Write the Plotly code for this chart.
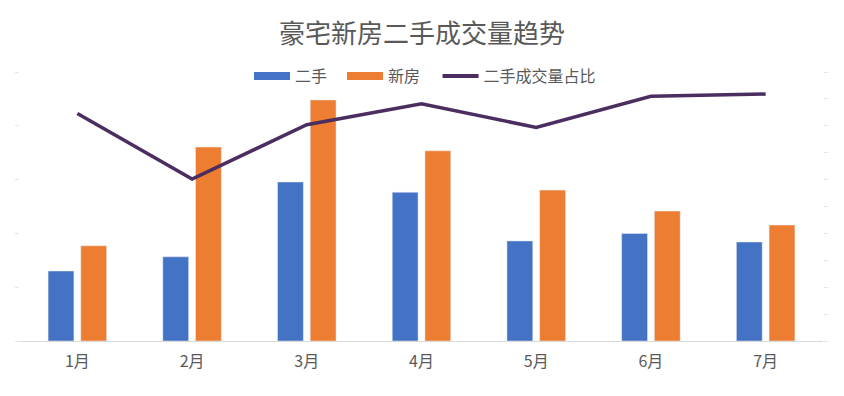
import plotly.graph_objects as go

months = ["1月", "2月", "3月", "4月", "5月", "6月", "7月"]
second_hand = [260, 313, 591, 553, 372, 400, 368]
new_house = [354, 721, 896, 707, 561, 483, 431]
second_share = [42.3, 30.1, 40.2, 44.1, 39.7, 45.5, 45.9]

BLUE = "#4472C4"
ORANGE = "#ED7D31"
PURPLE = "#4B2D5F"
FONT = "Noto Sans CJK SC"

fig = go.Figure()
fig.add_trace(go.Bar(x=months, y=second_hand, name="二手", marker_color=BLUE,
                     showlegend=False, yaxis="y"))
fig.add_trace(go.Bar(x=months, y=new_house, name="新房", marker_color=ORANGE,
                     showlegend=False, yaxis="y"))
fig.add_trace(go.Scatter(x=months, y=second_share, name="二手成交量占比", mode="lines",
                         line=dict(color=PURPLE, width=3.5), yaxis="y2", showlegend=False))
# legend proxies, one legend box each so spacing can match
legend_pos = [0.2852, 0.401, 0.520]
for i, (nm, col, w) in enumerate([("二手", BLUE, 8), ("新房", ORANGE, 8), ("二手成交量占比", PURPLE, 4)]):
    lg = "legend" if i == 0 else f"legend{i+1}"
    fig.add_trace(go.Scatter(x=[None], y=[None], name=nm, mode="lines",
                             line=dict(color=col, width=w), yaxis="y2", legend=lg))

leg_common = dict(orientation="h", xanchor="left", y=0.985, yanchor="middle",
                  font=dict(size=16, color="#595959"), itemwidth=36,
                  bgcolor="rgba(0,0,0,0)")

fig.update_layout(
    width=844, height=396,
    margin=dict(l=20, r=21, t=72, b=55),
    paper_bgcolor="white", plot_bgcolor="white",
    font=dict(family=FONT, color="#595959"),
    title=dict(text="豪宅新房二手成交量趋势", x=0.5, xanchor="center", y=0.915, yanchor="middle",
               font=dict(size=26, color="#595959", family=FONT)),
    barmode="group", bargap=0.43, bargroupgap=0.21,
    legend=dict(x=legend_pos[0], **leg_common),
    legend2=dict(x=legend_pos[1], **leg_common),
    legend3=dict(x=legend_pos[2], **leg_common),
    xaxis=dict(showgrid=False, showline=True, linecolor="#D9D9D9", linewidth=1,
               ticks="", tickfont=dict(size=16, color="#595959"), ticklabelstandoff=6),
    yaxis=dict(range=[0, 1000], dtick=200, showgrid=False, showticklabels=False,
               ticks="outside", ticklen=4, tickcolor="#E6E6E6", zeroline=False),
    yaxis2=dict(range=[0, 50], dtick=5, overlaying="y", side="right", showgrid=False,
                showticklabels=False, ticks="outside", ticklen=4, tickcolor="#E6E6E6",
                zeroline=False),
)

fig.write_html("out.html")
